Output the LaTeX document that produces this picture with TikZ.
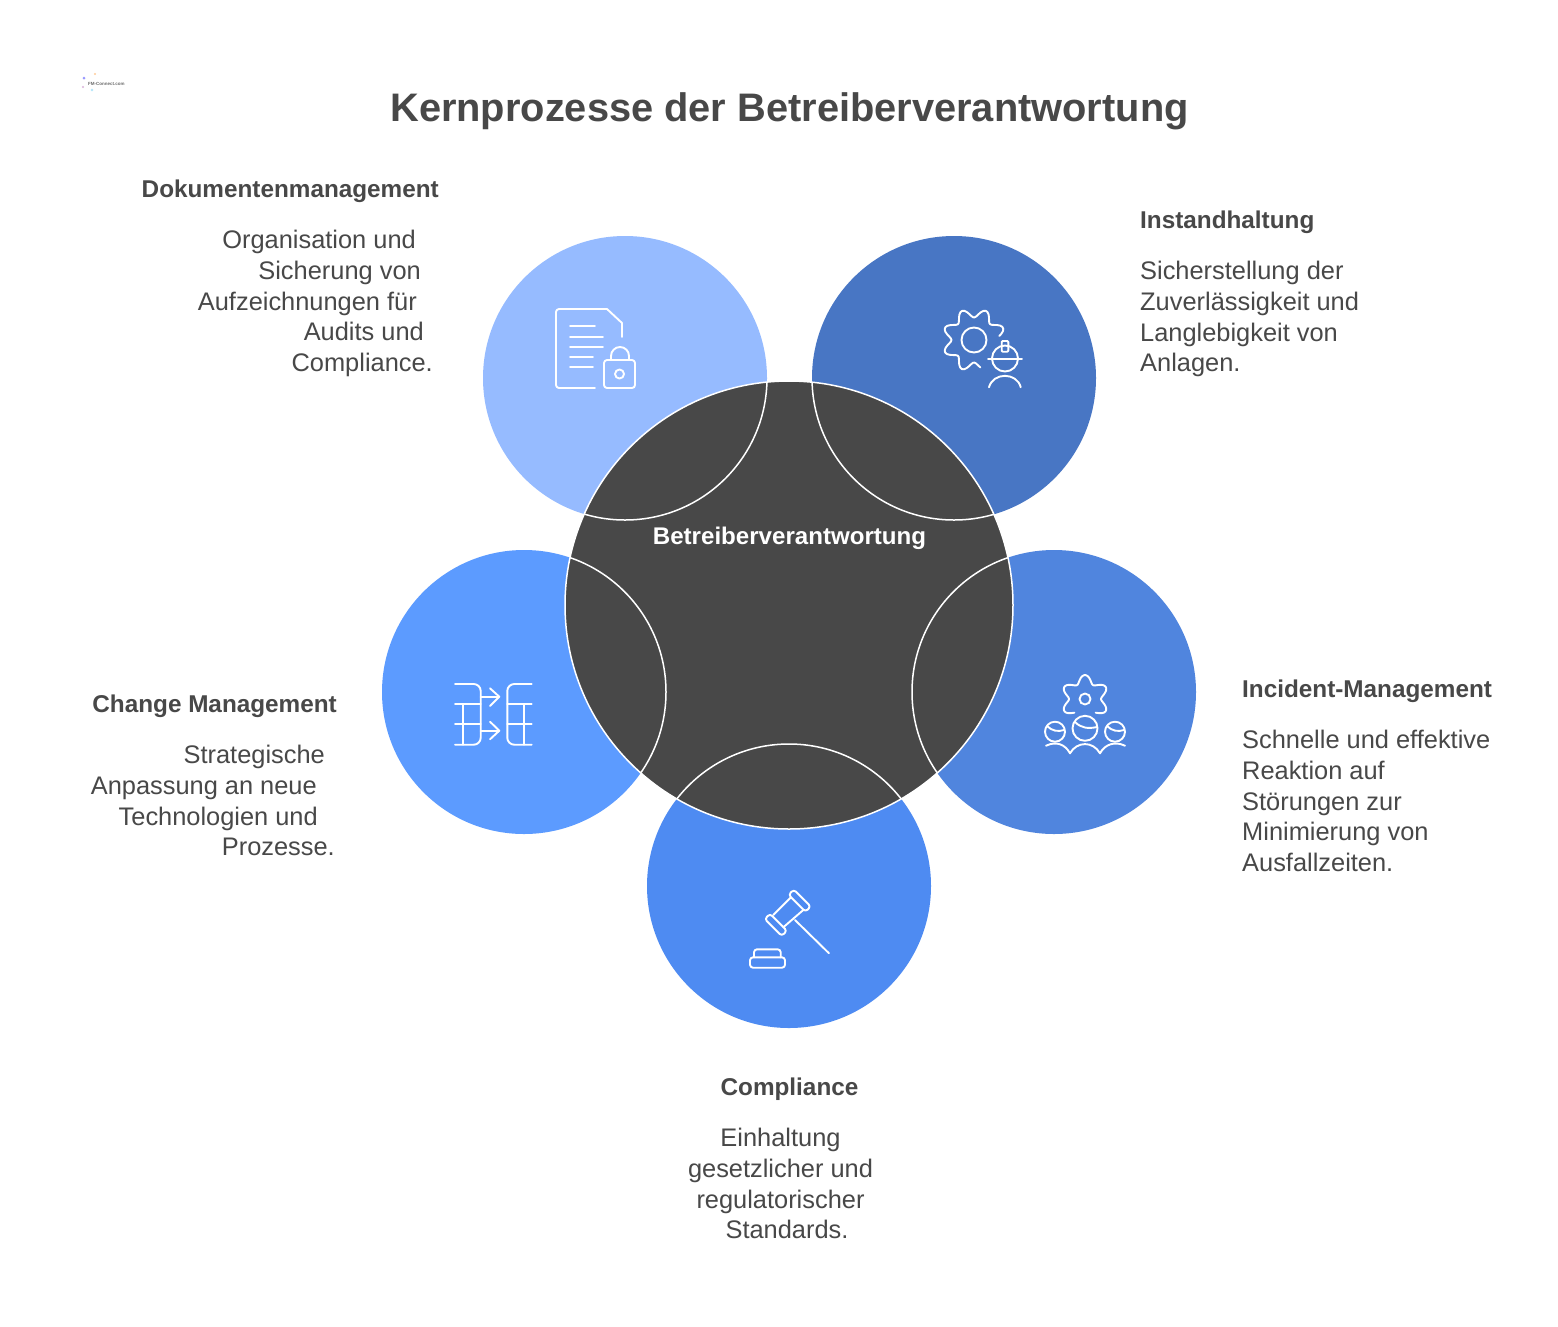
\documentclass[tikz,border=0pt]{standalone}
\usepackage{fontspec}
\setmainfont{Liberation Sans}
\usetikzlibrary{positioning}

\begin{document}
\begin{tikzpicture}[x=1pt, y=-1pt]

      \definecolor{darkgray}{HTML}{484848}
      \definecolor{docblue}{HTML}{96BBFF}
      \definecolor{keepblue}{HTML}{4876C4}
      \definecolor{incidentblue}{HTML}{5085DE}
      \definecolor{lawblue}{HTML}{4E8BF2}
      \definecolor{changeblue}{HTML}{5C9BFF}

      \tikzstyle{petal}    = [circle, minimum size=284pt, inner sep=0pt]
      \tikzstyle{core}     = [circle, minimum size=448pt, inner sep=0pt, fill=darkgray]
      \tikzstyle{heading}  = [inner sep=0pt, text=darkgray, font=\fontsize{24.3}{30.6}\selectfont\bfseries]
      \tikzstyle{bodytext} = [inner sep=0pt, text=darkgray, font=\fontsize{25.4}{30.6}\selectfont]
      \tikzstyle{iconline} = [white, line width=1.9pt, line cap=round, line join=round]

      \newcommand{\textsep}[0]{33.3pt}
      \newcommand{\trail}[2]{\mbox{#1\hspace{#2pt}}}

      \useasboundingbox (0,0) rectangle (1558,1326);
      \fill [white] (0,0) rectangle (1558,1326);

      % circles
      \node [petal, fill = docblue]      (doc)      at (625,378) {};
      \node [petal, fill = keepblue]     (keep)     at (954,378) {};
      \node [petal, fill = incidentblue] (incident) at (1054,692) {};
      \node [petal, fill = lawblue]      (law)      at (789,886) {};
      \node [petal, fill = changeblue]   (change)   at (524,692) {};
      \node [core]                       (centre)   at (789,605) {};

      \begin{scope}
        \clip (centre.center) circle (224);
        \foreach \petalname in {doc,keep,incident,law,change}
          \draw [white, line width=1.5pt] (\petalname.center) circle (142);
      \end{scope}
      \draw [white, line width=1.5pt] (centre.center) circle (224);

      \node [text=white, font=\fontsize{24.1}{30}\selectfont\bfseries, inner sep=0pt] (centrelabel) at (789.5,538.5) {Betreiberverantwortung};

      % title and logo
      \node [text=darkgray, font=\fontsize{39.8}{48}\selectfont\bfseries, inner sep=0pt] (title) at (789.5,111) {Kernprozesse der Betreiberverantwortung};
      \node [text=darkgray!80, font=\fontsize{4.5}{6}\selectfont\bfseries, inner sep=0pt, anchor=west] (logo) at (88,84) {FM-Connect.com};
      \fill [blue!40!white]   (84,78) circle (1.5);
      \fill [orange!40!white] (95,74) circle (1.2);
      \fill [cyan!30!white]   (92,90) circle (1.4);
      \fill [violet!30!white] (83,87) circle (1.2);

      % labels
      \node [heading, anchor=base east] (dochead) at (439,197) {Dokumentenmanagement};
      \node [bodytext, align=right, below = \textsep of dochead.base east, anchor=north east, xshift=-6pt] (docdesc)
        {\trail{Organisation und}{17}\\\trail{Sicherung von}{12}\\\trail{Aufzeichnungen für}{16}\\\trail{Audits und}{9}\\Compliance.};

      \node [heading, anchor=base west] (keephead) at (1140,228) {Instandhaltung};
      \node [bodytext, align=left, below = \textsep of keephead.base west, anchor=north west] (keepdesc)
        {Sicherstellung der\\Zuverlässigkeit und\\Langlebigkeit von\\Anlagen.};

      \node [heading, anchor=base west] (incidenthead) at (1242,697) {Incident-Management};
      \node [bodytext, align=left, below = \textsep of incidenthead.base west, anchor=north west] (incidentdesc)
        {Schnelle und effektive\\Reaktion auf\\Störungen zur\\Minimierung von\\Ausfallzeiten.};

      \node [heading, anchor=base] (lawhead) at (789.5,1095) {Compliance};
      \node [bodytext, align=center, below = \textsep of lawhead.base, anchor=north, xshift=-9pt] (lawdesc)
        {Einhaltung\\gesetzlicher und\\regulatorischer\\\hspace*{13pt}Standards.};

      \node [heading, anchor=base east] (changehead) at (337,712) {Change Management};
      \node [bodytext, align=right, below = \textsep of changehead.base east, anchor=north east, xshift=-2pt] (changedesc)
        {\trail{Strategische}{10}\\\trail{Anpassung an neue}{18}\\\trail{Technologien und}{17}\\Prozesse.};

      % document icon
      \draw [iconline, rounded corners=3pt] (595,388) -- (556,388) -- (556,309) -- (607,309);
      \draw [iconline] (607,309) -- (622,323) -- (622,337);
      \foreach \lineend/\liney in {595/326,603/337,603/347,593/357,593/367}
        \draw [iconline] (570,\liney) -- (\lineend,\liney);
      \draw [iconline, rounded corners=3pt] (604,360) rectangle (635,388);
      \draw [iconline] (611,360) -- (611,356) arc [start angle=180, end angle=360, radius=9] -- (629,360);
      \draw [iconline] (619.5,374) circle (4.5);

      % gear and worker icon
      \draw [iconline] (974,340) circle (12.5);
      \draw [iconline] plot [smooth, samples=70, domain=9:283] ({974+(27-4.5*cos(8*\x))*cos(\x)}, {340-(27-4.5*cos(8*\x))*sin(\x)});
      \draw [iconline] (1005,358.5) circle (13);
      \draw [iconline] (988,359.3) -- (1022,359.3);
      \draw [iconline, rounded corners=1pt] (1001.7,341) rectangle (1008.3,351.7);
      \draw [iconline] (989,387.3) .. controls (993,372) and (1017,372) .. (1020.7,387.3);

      % gear and people icon
      \draw [iconline] (1085,699) circle (5.5);
      \draw [iconline] plot [smooth, samples=70, domain=-52:232] ({1085+(20-4*cos(6*\x))*cos(\x)}, {699-(20-4*cos(6*\x))*sin(\x)});
      \draw [iconline] (1055,731.7) circle (10);
      \draw [iconline] (1085,728.3) circle (12.5);
      \draw [iconline] (1115,731.7) circle (10);
      \draw [iconline] (1047,726) .. controls (1052,731) and (1058,732) .. (1064,730);
      \draw [iconline] (1075,722) .. controls (1081,728) and (1088,729) .. (1097,727);
      \draw [iconline] (1107,726) .. controls (1112,731) and (1118,732) .. (1124,730);
      \draw [iconline] (1046,745.7) .. controls (1056,741) and (1065,744) .. (1070,753.3)
        .. controls (1077,741) and (1093,741) .. (1100,753.3)
        .. controls (1105,744) and (1115,741) .. (1125,745.7);

      % gavel icon
      \draw [iconline, rounded corners=3pt] (770,913.7) -- (787,930.7) -- (781.7,936) -- (764.7,919) -- cycle;
      \draw [iconline, rounded corners=3pt] (793.8,889.5) -- (810.8,906.5) -- (805.5,911.8) -- (788.5,894.8) -- cycle;
      \draw [iconline] (773.3,915) -- (791,897.3);
      \draw [iconline] (783.3,927.3) -- (803.3,910);
      \draw [iconline] (795,920) -- (829,953.3);
      \draw [iconline, rounded corners=3pt] (750,957.3) rectangle (785,967.7);
      \draw [iconline, rounded corners=3pt] (754,957.3) -- (754,949.3) -- (780.7,949.3) -- (780.7,957.3);

      % transition icon
      \draw [iconline, rounded corners=7pt] (455,684) -- (480.7,684) -- (480.7,744.7) -- (455,744.7);
      \draw [iconline, rounded corners=7pt] (531.7,684) -- (507.3,684) -- (507.3,744.7) -- (531.7,744.7);
      \foreach \liney in {704,724.3} {
        \draw [iconline] (455,\liney) -- (480.7,\liney);
        \draw [iconline] (507.3,\liney) -- (531.7,\liney);
      }
      \draw [iconline] (463.3,704) -- (463.3,744.7);
      \draw [iconline] (524,704) -- (524,744.7);
      \draw [iconline] (480.7,696.7) -- (498.3,696.7);
      \draw [iconline] (480.7,730.7) -- (498.3,730.7);
      \draw [iconline] (490,688.3) -- (499.3,696.7) -- (490,706);
      \draw [iconline] (490,721.7) -- (499.3,730.7) -- (490,739.3);

    \end{tikzpicture}
\end{document}
